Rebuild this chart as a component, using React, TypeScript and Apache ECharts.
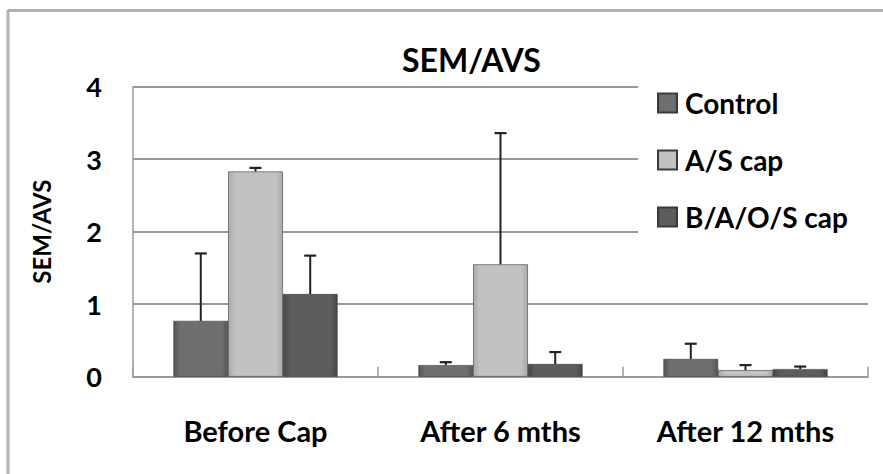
import React, { useEffect, useRef } from "react";
import * as echarts from "echarts";

const categories = ["Before Cap", "After 6 mths", "After 12 mths"];
const seriesNames = ["Control", "A/S cap", "B/A/O/S cap"];
const controlValues = [0.77, 0.16, 0.245];
const asCapValues = [2.83, 1.55, 0.09];
const baosCapValues = [1.14, 0.175, 0.105];
const controlErrors = [0.93, 0.04, 0.21];
const asCapErrors = [0.05, 1.81, 0.07];
const baosCapErrors = [0.53, 0.165, 0.035];
const yTicks = [0, 1, 2, 3, 4];

const FONT = "Lato";

function grad(edge: string, mid: string) {
  return new echarts.graphic.LinearGradient(0, 0, 1, 0, [
    { offset: 0, color: edge },
    { offset: 0.12, color: mid },
    { offset: 0.88, color: mid },
    { offset: 1, color: edge },
  ]);
}

export default function App() {
  const ref = useRef<HTMLDivElement>(null);
  useEffect(() => {
    if (!ref.current) return;
    const chart = echarts.init(ref.current, undefined, { renderer: "svg" });
    const values = [controlValues, asCapValues, baosCapValues];
    const errors = [controlErrors, asCapErrors, baosCapErrors];
    const fills = [
      grad("#555555", "#6f6f6f"),
      grad("#a9a9a9", "#c2c2c2"),
      grad("#454545", "#5d5d5d"),
    ];
    const gapRatio = 0.33;
    const barSeries = seriesNames.map((name, i) => ({
      type: "bar",
      name,
      data: values[i],
      barGap: "0%",
      barCategoryGap: "33%",
      itemStyle: { color: fills[i], borderColor: "#3a3a3a", borderWidth: 0.6 },
      z: 2,
    }));
    const errSeries = seriesNames.map((name, i) => ({
      type: "custom",
      name: name + " error",
      z: 5,
      data: values[i].map((v, j) => [j, v, errors[i][j]]),
      renderItem: (params: any, api: any) => {
        const idx = api.value(0);
        const v = api.value(1);
        const e = api.value(2);
        const band = api.size([1, 0])[0];
        const barW = (band * (1 - gapRatio)) / 3;
        const base = api.coord([idx, v]);
        const top = api.coord([idx, v + e]);
        const x = base[0] + (i - 1) * barW;
        const cap = 6;
        return {
          type: "group",
          children: [
            {
              type: "line",
              shape: { x1: x, y1: base[1], x2: x, y2: top[1] },
              style: { stroke: "#222", lineWidth: 2 },
            },
            {
              type: "line",
              shape: { x1: x - cap, y1: top[1], x2: x + cap, y2: top[1] },
              style: { stroke: "#222", lineWidth: 2.2 },
            },
          ],
        };
      },
    }));
    chart.setOption({
      animation: false,
      backgroundColor: "#ffffff",
      title: {
        text: "SEM/AVS",
        left: 397,
        top: 38,
        textStyle: { fontFamily: FONT, fontWeight: "bold", fontSize: 32, color: "#000" },
      },
      legend: {
        data: seriesNames,
        orient: "vertical",
        left: 638,
        top: 77,
        backgroundColor: "#ffffff",
        padding: [12, 20, 12, 19],
        itemWidth: 19,
        itemHeight: 19,
        itemGap: 29,
        icon: "rect",
        textStyle: {
          fontFamily: FONT,
          fontWeight: "bold",
          fontSize: 28,
          color: "#000",
          padding: [0, 0, 0, 3],
        },
        z: 10,
      },
      graphic: [
        {
          type: "line",
          shape: { x1: 8, y1: 10.5, x2: 883, y2: 10.5 },
          style: { stroke: "#b2b2b2", lineWidth: 3 },
        },
        {
          type: "line",
          shape: { x1: 8, y1: 10, x2: 8, y2: 474 },
          style: { stroke: "#b2b2b2", lineWidth: 3 },
        },
      ],
      grid: { left: 133, right: 15, top: 86.7, bottom: 97.3 },
      xAxis: {
        type: "category",
        data: categories,
        axisLine: { lineStyle: { color: "#9a9a9a", width: 1.5 } },
        axisTick: { show: true, inside: true, length: 10, lineStyle: { color: "#9a9a9a", width: 1.5 } },
        axisLabel: {
          margin: 39,
          fontFamily: FONT,
          fontWeight: "bold",
          fontSize: 29,
          color: "#000",
        },
      },
      yAxis: {
        type: "value",
        min: yTicks[0],
        max: yTicks[yTicks.length - 1],
        interval: 1,
        name: "SEM/AVS",
        nameLocation: "middle",
        nameGap: 80,
        nameTextStyle: { fontFamily: FONT, fontWeight: "bold", fontSize: 24, color: "#000" },
        axisLine: { show: true, lineStyle: { color: "#9a9a9a", width: 1.5 } },
        axisTick: { show: false },
        splitLine: { lineStyle: { color: "#9a9a9a", width: 2 } },
        axisLabel: {
          margin: 31,
          fontFamily: FONT,
          fontWeight: "bold",
          fontSize: 27,
          color: "#000",
          padding: [10, 0, 0, 0],
        },
      },
      series: [...barSeries, ...errSeries],
    });
    return () => chart.dispose();
  }, []);
  return (
    <div
      ref={ref}
      style={{ position: "fixed", left: 0, top: 0, width: 883, height: 474 }}
    />
  );
}
